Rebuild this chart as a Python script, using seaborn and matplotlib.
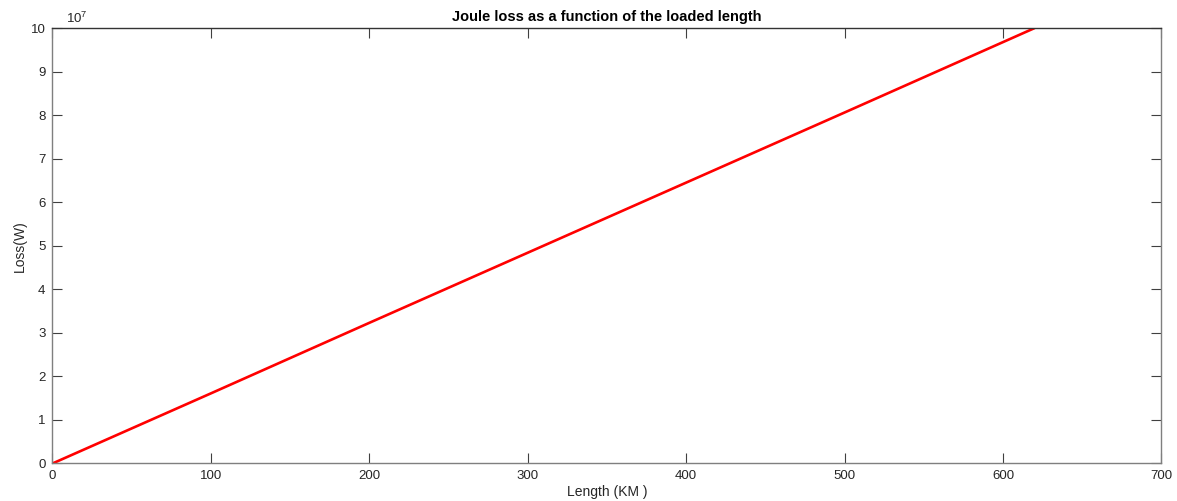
import matplotlib
matplotlib.use("Agg")
import matplotlib.pyplot as plt
import seaborn as sns
import pandas as pd
from matplotlib.ticker import FuncFormatter

# Joule loss along the loaded line length
length_km = [0, 100, 200, 300, 400, 500, 620]
loss_w = [0.0, 1.61e7, 3.23e7, 4.84e7, 6.45e7, 8.06e7, 1.0e8]

x_ticks = [0, 100, 200, 300, 400, 500, 600, 700]
y_ticks = [i * 1e7 for i in range(11)]

sns.set_style("white")
plt.rcParams["font.family"] = ["Liberation Sans", "DejaVu Sans"]
plt.rcParams["mathtext.fontset"] = "custom"
plt.rcParams["mathtext.rm"] = "Liberation Sans"
plt.rcParams["mathtext.it"] = "Liberation Sans"

text_color = "#262626"
df = pd.DataFrame({"Length": length_km, "Loss": loss_w})

fig = plt.figure(figsize=(11.77, 5.01), dpi=100)
ax = fig.add_axes([0.0446, 0.0749, 0.9422, 0.8692])

sns.lineplot(data=df, x="Length", y="Loss", ax=ax, color="#ff0000",
             linewidth=1.9, solid_capstyle="butt")

ax.set_xlim(0, 700)
ax.set_ylim(0, 1e8)
ax.set_xticks(x_ticks)
ax.set_yticks(y_ticks)
ax.yaxis.set_major_formatter(FuncFormatter(lambda v, p: f"{v / 1e7:g}"))

ax.tick_params(direction="in", length=7, width=0.8, top=True, right=True,
               bottom=True, left=True, labelsize=9.5, colors="#404040",
               labelcolor=text_color, pad=5)
for side in ["left", "bottom", "right"]:
    ax.spines[side].set_color("#7f7f7f")
    ax.spines[side].set_linewidth(1.0)
ax.spines["top"].set_color("#333333")
ax.spines["top"].set_linewidth(1.0)

ax.text(0.012, 1.004, r"$10^{7}$", transform=ax.transAxes, fontsize=9.5,
        color=text_color, ha="left", va="bottom")

ax.set_title("Joule loss as a function of the loaded length", fontsize=10.5,
             fontweight="bold", color="black", pad=5)
ax.set_xlabel("Length (KM )", fontsize=10, color=text_color, labelpad=2)
ax.set_ylabel("Loss(W)", fontsize=10, color=text_color, labelpad=3)

fig.savefig("out.png", dpi=100)
